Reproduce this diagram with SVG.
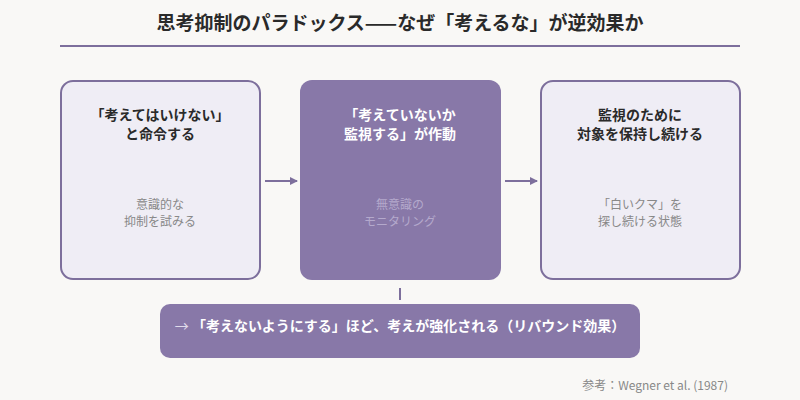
<svg xmlns="http://www.w3.org/2000/svg" width="800" height="400" viewBox="0 0 800 400">
<style>
text{font-family:"Noto Sans CJK JP","Noto Sans",sans-serif;text-anchor:middle}
.t{font-size:14px;font-weight:bold;fill:#2a2a2a}
.s{font-size:12px;fill:#888}
.light{fill:#efedf5;stroke:#7d6f9c;stroke-width:2}
.dark{fill:#8878a8}
.c{stroke:#7d6f9c;stroke-width:2;fill:none}
</style>
<defs><marker id="a" markerWidth="8" markerHeight="8" refX="7" refY="4" orient="auto" markerUnits="userSpaceOnUse"><path d="M0,0L8,4L0,8z" fill="#7d6f9c"/></marker></defs>
<rect width="800" height="400" fill="#f9f8f6"/>
<text x="400" y="30" style="font-size:19px;font-weight:bold;fill:#2a2a2a">思考抑制のパラドックス——なぜ「考えるな」が逆効果か</text>
<line x1="60" y1="46" x2="740" y2="46" stroke="#7d6f9c" stroke-width="2"/>
<g id="n1"><rect class="light" x="61" y="81" width="199" height="198" rx="12"/>
<text class="t" x="160" y="120">「考えてはいけない」</text><text class="t" x="160" y="139">と命令する</text>
<text class="s" x="160" y="209">意識的な</text><text class="s" x="160" y="226">抑制を試みる</text></g>
<g id="n2"><rect class="dark" x="300" y="80" width="201" height="200" rx="12"/>
<text class="t" x="400" y="120" fill="#fff" style="fill:#fff">「考えていないか</text><text class="t" x="400" y="139" style="fill:#fff">監視する」が作動</text>
<text class="s" x="400" y="209" style="fill:#b4a9cc">無意識の</text><text class="s" x="400" y="226" style="fill:#b4a9cc">モニタリング</text></g>
<g id="n3"><rect class="light" x="541" y="81" width="199" height="198" rx="12"/>
<text class="t" x="640" y="120">監視のために</text><text class="t" x="640" y="139">対象を保持し続ける</text>
<text class="s" x="640" y="209">「白いクマ」を</text><text class="s" x="640" y="226">探し続ける状態</text></g>
<g id="n4"><rect class="dark" x="160" y="304" width="480" height="54" rx="10"/>
<text x="400" y="331" style="font-size:14px;font-weight:bold;fill:#fff"><tspan style="font-weight:normal;fill:#e0dbea">→ </tspan>「考えないようにする」ほど、考えが強化される（リバウンド効果）</text></g>
<g id="connectors">
<line class="c" x1="265" y1="181" x2="297" y2="181" marker-end="url(#a)"/>
<line class="c" x1="505" y1="181" x2="537" y2="181" marker-end="url(#a)"/>
<line class="c" x1="400" y1="288" x2="400" y2="300"/>
</g>
<text x="728" y="390" style="font-size:12px;fill:#888;text-anchor:end">参考：Wegner et al. (1987)</text>
</svg>
